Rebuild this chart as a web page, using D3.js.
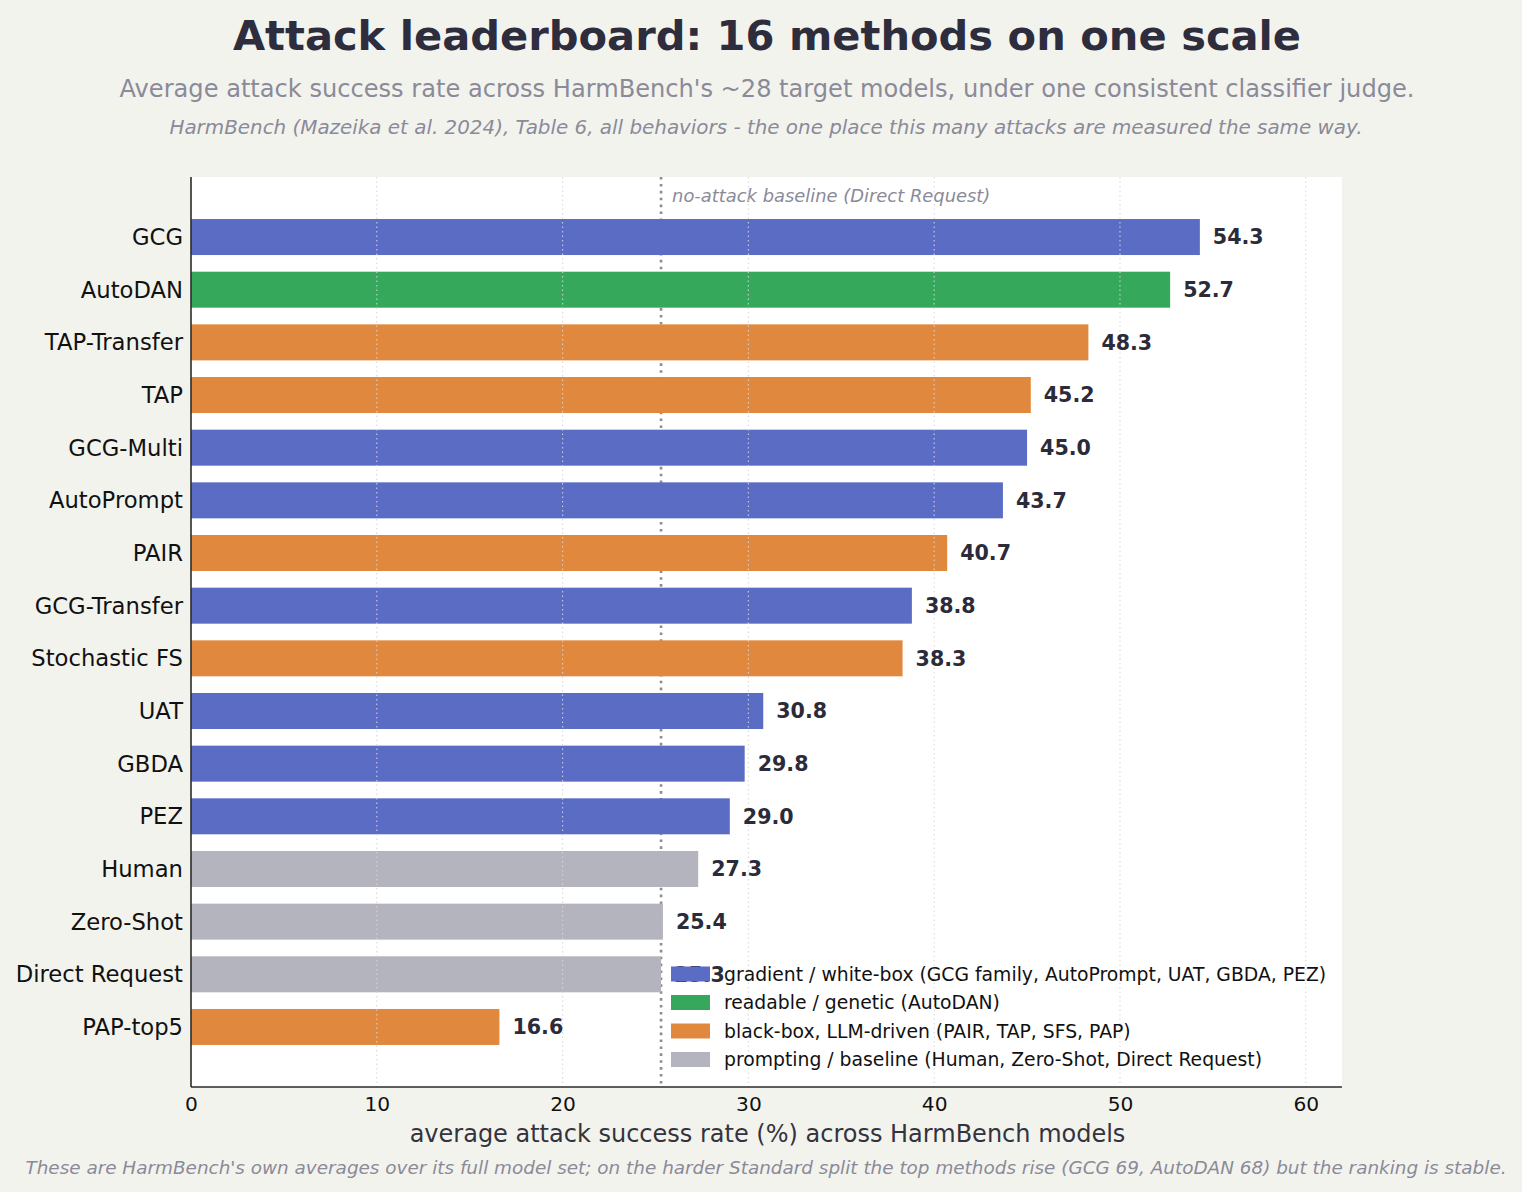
<!DOCTYPE html>
<html>
<head>
<meta charset="utf-8">
<script src="https://cdn.jsdelivr.net/npm/d3@7"></script>
<style>
  body { margin: 0; background: #f3f3ee; }
  svg { font-family: "DejaVu Sans", sans-serif; }
</style>
</head>
<body>
<svg class="chart" width="1522" height="1192"></svg>
<script>
const methods = ["GCG", "AutoDAN", "TAP-Transfer", "TAP", "GCG-Multi", "AutoPrompt", "PAIR",
    "GCG-Transfer", "Stochastic FS", "UAT", "GBDA", "PEZ", "Human", "Zero-Shot", "Direct Request", "PAP-top5"];
const asr = [54.3, 52.7, 48.3, 45.2, 45.0, 43.7, 40.7, 38.8, 38.3, 30.8, 29.8, 29.0, 27.3, 25.4, 25.3, 16.6];
const family = ["grad", "read", "bb", "bb", "grad", "grad", "bb", "grad", "bb", "grad", "grad", "grad",
    "base", "base", "base", "bb"];
const familyKeys = ["grad", "read", "bb", "base"];
const familyLabels = [
    "gradient / white-box (GCG family, AutoPrompt, UAT, GBDA, PEZ)",
    "readable / genetic (AutoDAN)",
    "black-box, LLM-driven (PAIR, TAP, SFS, PAP)",
    "prompting / baseline (Human, Zero-Shot, Direct Request)"
];
const familyColors = ["#5b6cc4", "#36a85c", "#e0893e", "#b4b4be"];
const baseline = 25.3;
const xTicks = [0, 10, 20, 30, 40, 50, 60];

function drawChart() {
    const svg = d3.select(".chart");
    const plotLeft = 191, plotRight = 1342, plotTop = 177, plotBottom = 1087;

    const color = d3.scaleOrdinal(familyKeys, familyColors);
    const x = d3.scaleLinear().domain([0, 61.95]).range([plotLeft, plotRight]);
    const y = d3.scaleLinear().domain([-1.14, methods.length - 1 + 1.14]).range([plotTop, plotBottom]);
    const barH = 36;

    // titles
    svg.append("text").attr("x", 767).attr("y", 50).attr("text-anchor", "middle")
        .attr("font-size", 41.6).attr("font-weight", "bold").attr("fill", "#2d2d3e")
        .text("Attack leaderboard: 16 methods on one scale");
    svg.append("text").attr("x", 767).attr("y", 97).attr("text-anchor", "middle")
        .attr("font-size", 24.1).attr("fill", "#8a8a99")
        .text("Average attack success rate across HarmBench's ~28 target models, under one consistent classifier judge.");
    svg.append("text").attr("x", 766).attr("y", 134).attr("text-anchor", "middle")
        .attr("font-size", 19.9).attr("font-style", "italic").attr("fill", "#8a8a99")
        .text("HarmBench (Mazeika et al. 2024), Table 6, all behaviors - the one place this many attacks are measured the same way.");

    // plot background
    svg.append("rect").attr("x", plotLeft).attr("y", plotTop)
        .attr("width", plotRight - plotLeft).attr("height", plotBottom - plotTop)
        .attr("fill", "#ffffff");

    // baseline marker (behind bars)
    svg.append("line")
        .attr("x1", x(baseline)).attr("x2", x(baseline)).attr("y1", plotTop).attr("y2", plotBottom)
        .attr("stroke", "#8c8c8c").attr("stroke-width", 2.6).attr("stroke-dasharray", "2.6,4.3");
    svg.append("text").attr("x", x(baseline) + 11).attr("y", 202)
        .attr("font-size", 17.9).attr("font-style", "italic").attr("fill", "#8a8a99")
        .text("no-attack baseline (Direct Request)");

    // bars
    svg.selectAll(".bar")
        .data(methods)
        .enter().append("rect")
        .attr("class", "bar")
        .attr("x", x(0))
        .attr("y", (d, i) => y(i) - barH / 2)
        .attr("width", (d, i) => x(asr[i]) - x(0))
        .attr("height", barH)
        .attr("fill", (d, i) => color(family[i]));

    // grid over bars
    svg.selectAll(".grid")
        .data(xTicks.filter(t => t > 0))
        .enter().append("line")
        .attr("class", "grid")
        .attr("x1", d => x(d)).attr("x2", d => x(d)).attr("y1", plotTop).attr("y2", plotBottom)
        .attr("stroke", "#d6d6d6").attr("stroke-opacity", 0.85).attr("stroke-width", 1.2)
        .attr("stroke-dasharray", "1.5,3");

    // value labels
    svg.selectAll(".value")
        .data(methods)
        .enter().append("text")
        .attr("class", "value")
        .attr("x", (d, i) => x(asr[i]) + 13)
        .attr("y", (d, i) => y(i))
        .attr("dy", "0.35em")
        .attr("font-size", 20.6).attr("font-weight", "bold").attr("fill", "#2b2b3a")
        .text((d, i) => asr[i].toFixed(1));

    // y category labels
    svg.selectAll(".ylab")
        .data(methods)
        .enter().append("text")
        .attr("class", "ylab")
        .attr("x", plotLeft - 8)
        .attr("y", (d, i) => y(i))
        .attr("dy", "0.35em")
        .attr("text-anchor", "end")
        .attr("font-size", 22.7).attr("fill", "#111")
        .text(d => d);

    // axes
    const xAxis = svg.append("g").attr("transform", `translate(0,${plotBottom})`)
        .call(d3.axisBottom(x).tickValues(xTicks).tickSize(0).tickPadding(10));
    xAxis.select(".domain").attr("stroke", "#2b2b2b").attr("stroke-width", 1.6)
        .attr("d", `M${plotLeft},0H${plotRight}`);
    xAxis.selectAll("text").attr("font-size", 20.2).attr("fill", "#111")
        .attr("font-family", "DejaVu Sans, sans-serif");
    svg.append("line").attr("x1", plotLeft).attr("x2", plotLeft).attr("y1", plotTop).attr("y2", plotBottom)
        .attr("stroke", "#2b2b2b").attr("stroke-width", 1.6);

    svg.append("text").attr("x", (plotLeft + plotRight) / 2 + 1).attr("y", 1142).attr("text-anchor", "middle")
        .attr("font-size", 24).attr("fill", "#333340")
        .text("average attack success rate (%) across HarmBench models");
    svg.append("text").attr("x", 766).attr("y", 1174).attr("text-anchor", "middle")
        .attr("font-size", 18.4).attr("font-style", "italic").attr("fill", "#8a8a99")
        .text("These are HarmBench's own averages over its full model set; on the harder Standard split the top methods rise (GCG 69, AutoDAN 68) but the ranking is stable.");

    // legend
    const legend = svg.append("g").attr("transform", "translate(671,974)");
    familyLabels.forEach((lab, i) => {
        legend.append("rect").attr("x", 0).attr("y", i * 28.5 - 7.5).attr("width", 39).attr("height", 15)
            .attr("fill", familyColors[i]);
        legend.append("text").attr("x", 53).attr("y", i * 28.5).attr("dy", "0.35em")
            .attr("font-size", 18.8).attr("fill", "#111").text(lab);
    });
}

drawChart();
</script>
</body>
</html>
